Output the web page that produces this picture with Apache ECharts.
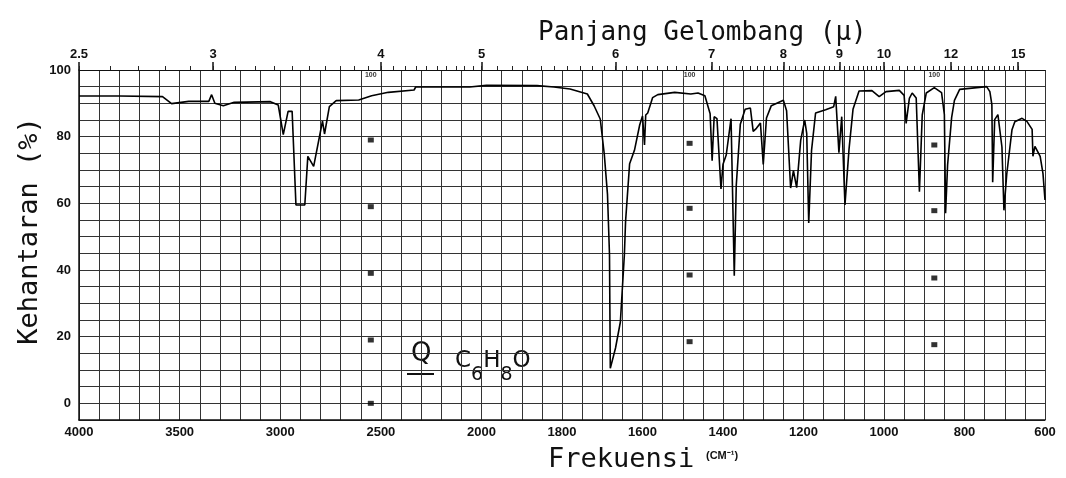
<!DOCTYPE html>
<html>
<head>
<meta charset="utf-8">
<script src="https://cdn.jsdelivr.net/npm/echarts@6/dist/echarts.min.js"></script>
<style>
    html, body { margin: 0; padding: 0; background: #fff; }
    #chart { width: 1066px; height: 478px; }
</style>
</head>
<body>
<div id="chart"></div>
<script>
// spectrum (cm-1, %T)
var wavenumbers = [4000, 3800, 3585, 3540, 3455, 3355, 3341, 3325, 3283, 3229, 3049, 3010, 2985, 2961, 2941, 2922, 2878, 2863, 2834, 2790, 2780, 2756, 2722, 2610, 2546, 2463, 2335, 2327, 2059, 1988, 1862, 1820, 1780, 1737, 1720, 1705, 1695, 1687, 1682, 1680, 1667, 1655, 1645, 1642, 1632, 1620, 1607, 1600, 1597, 1595, 1592, 1587, 1575, 1562, 1520, 1480, 1462, 1445, 1432, 1427, 1422, 1415, 1405, 1400, 1392, 1380, 1377, 1372, 1367, 1357, 1345, 1332, 1325, 1317, 1307, 1300, 1292, 1280, 1250, 1242, 1232, 1225, 1217, 1207, 1197, 1192, 1187, 1180, 1170, 1145, 1125, 1120, 1112, 1105, 1097, 1087, 1077, 1062, 1030, 1012, 995, 962, 950, 945, 937, 930, 920, 912, 905, 895, 875, 857, 850, 847, 842, 832, 825, 812, 745, 737, 732, 730, 725, 717, 707, 702, 695, 682, 675, 657, 645, 632, 630, 625, 612, 605, 600];
var transmittance = [92.2, 92.2, 92.0, 89.9, 90.6, 90.6, 92.6, 90.0, 89.3, 90.3, 90.5, 89.5, 80.6, 87.6, 87.6, 59.5, 59.5, 74.1, 71.1, 84.7, 80.8, 89.0, 90.8, 91.0, 92.3, 93.3, 94.0, 94.9, 94.9, 95.4, 95.3, 94.9, 94.3, 92.8, 89.2, 85.3, 74.8, 62.7, 44.6, 10.5, 16.6, 24.4, 44.7, 54.7, 71.9, 75.9, 83.5, 86.2, 86.0, 77.5, 86.5, 87.1, 91.7, 92.6, 93.3, 92.8, 93.1, 92.3, 86.9, 72.8, 86.0, 85.4, 64.3, 71.7, 74.5, 85.4, 86.0, 38.3, 65.5, 83.7, 88.2, 88.6, 81.6, 82.5, 84.1, 71.7, 85.6, 89.3, 90.9, 87.8, 64.6, 69.8, 64.7, 78.9, 85.0, 81.0, 54.1, 75.9, 87.1, 88.1, 89.0, 92.1, 75.2, 86.0, 59.5, 76.1, 88.2, 93.7, 93.8, 92.0, 93.5, 93.9, 92.4, 84.0, 91.5, 93.1, 91.6, 63.5, 86.5, 93.1, 94.7, 93.2, 86.6, 57.0, 71.5, 85.7, 90.9, 94.2, 95.0, 93.5, 89.6, 66.3, 85.1, 86.6, 76.9, 57.9, 68.8, 82.1, 84.5, 85.5, 84.6, 82.2, 74.1, 77.1, 74.1, 68.9, 61.0];

// tick labels
var freqLabels = [4000, 3500, 3000, 2500, 2000, 1800, 1600, 1400, 1200, 1000, 800, 600];
var percentLabels = [0, 20, 40, 60, 80, 100];
var micronLabels = [2.5, 3, 4, 5, 6, 7, 8, 9, 10, 12, 15];

// pen check marks on the chart paper
var checkWavenumbers = [2550, 1483, 875];
var checkValues = [
    [79, 59, 39, 19, 0],
    [78, 58.5, 38.5, 18.5],
    [77.5, 57.8, 37.6, 17.6]
];

// chart paper: 4000-2000 at half the scale of 2000-600
function toAxis(nu) {
    return nu >= 2000 ? (4000 - nu) / 2 : 1000 + (2000 - nu);
}
function fromAxis(u) {
    return u <= 1000 ? 4000 - u * 2 : 2000 - (u - 1000);
}

var spectrum = [];
for (var i = 0; i < wavenumbers.length; i++) {
    spectrum.push([toAxis(wavenumbers[i]), transmittance[i]]);
}

var checkMarks = [];
var checkTops = [];
for (var c = 0; c < checkWavenumbers.length; c++) {
    checkValues[c].forEach(function (v) {
        checkMarks.push([toAxis(checkWavenumbers[c]), v]);
    });
    checkTops.push([toAxis(checkWavenumbers[c]), 98.5]);
}

var micronMajor = micronLabels.map(function (l) { return toAxis(10000 / l); });
var micronMinor = [];
var lam = 2.5;
while (lam < 15.01) {
    micronMinor.push(toAxis(10000 / lam));
    lam += lam < 9.99 ? 0.1 : (lam < 11.99 ? 0.2 : 0.25);
}

var mono = "DejaVu Sans Mono";
var labelFont = {fontFamily: "Liberation Sans", fontWeight: "bold", fontSize: 13, color: "#111"};

var chart = echarts.init(document.getElementById("chart"));

chart.setOption({
    animation: false,
    backgroundColor: "#fff",
    grid: {left: 79, right: 21, top: 70, bottom: 58},
    xAxis: [
        {
            type: "value",
            position: "bottom",
            min: 0,
            max: 2400,
            interval: 50,
            axisLine: {onZero: false, lineStyle: {color: "#111", width: 1.5}},
            axisTick: {show: false},
            axisLabel: Object.assign({
                customValues: freqLabels.map(toAxis),
                margin: 6,
                formatter: function (v) {
                    return Math.round(fromAxis(v));
                }
            }, labelFont),
            splitLine: {show: true, lineStyle: {color: "#333", width: 1}}
        },
        {
            type: "value",
            position: "top",
            min: 0,
            max: 2400,
            axisLine: {show: true, onZero: false, lineStyle: {color: "#111", width: 1.2}},
            axisTick: {customValues: micronMajor, length: 8, lineStyle: {color: "#111", width: 1.5}},
            axisLabel: Object.assign({
                customValues: micronMajor,
                margin: 9,
                formatter: function (v) {
                    return Math.round(10000 / fromAxis(v) * 10) / 10;
                }
            }, labelFont),
            splitLine: {show: false}
        },
        {
            type: "value",
            position: "top",
            min: 0,
            max: 2400,
            axisLine: {show: false, onZero: false},
            axisTick: {customValues: micronMinor, length: 4, lineStyle: {color: "#222"}},
            axisLabel: {show: false},
            splitLine: {show: false}
        }
    ],
    yAxis: {
        type: "value",
        min: -5,
        max: 100,
        interval: 5,
        name: "Kehantaran (%)",
        nameLocation: "middle",
        nameGap: 36,
        nameMoveOverlap: false,
        nameTextStyle: {fontFamily: mono, fontSize: 27, color: "#111", padding: [0, 0, 0, 28]},
        axisLine: {show: true, onZero: false, lineStyle: {color: "#111", width: 1.5}},
        axisTick: {show: false},
        axisLabel: Object.assign({
            customValues: percentLabels,
            margin: 8
        }, labelFont),
        splitLine: {show: true, lineStyle: {color: "#333", width: 1}}
    },
    graphic: [
        {
            type: "text",
            left: 538,
            top: 20,
            style: {text: "Panjang Gelombang (\u03bc)", font: "26px 'DejaVu Sans Mono'", fill: "#111"}
        },
        {
            type: "text",
            left: 548,
            top: 446,
            style: {text: "Frekuensi", font: "27px 'DejaVu Sans Mono'", fill: "#111"}
        },
        {
            type: "text",
            left: 706,
            top: 450,
            style: {text: "(CM\u207b\u00b9)", font: "bold 11px 'Liberation Sans'", fill: "#111"}
        },
        {
            type: "text",
            left: 411,
            top: 341,
            style: {text: "Q", font: "26px 'DejaVu Sans'", fill: "#111", backgroundColor: "#fff"}
        },
        {
            type: "line",
            shape: {x1: 407, y1: 374, x2: 434, y2: 374},
            style: {stroke: "#111", lineWidth: 2}
        },
        {
            type: "text",
            left: 455,
            top: 350,
            style: {
                text: "{b|C}{s|6}{b|H}{s|8}{b|O}",
                backgroundColor: "#fff",
                rich: {
                    b: {font: "23px 'DejaVu Sans'", fill: "#111", verticalAlign: "top"},
                    s: {font: "19px 'DejaVu Sans'", fill: "#111", verticalAlign: "bottom", padding: [16, 0, 0, 0]}
                }
            }
        }
    ],
    series: [
        {
            name: "spectrum",
            type: "line",
            data: spectrum,
            showSymbol: false,
            lineStyle: {color: "#000", width: 1.6},
            z: 5
        },
        {
            name: "marks",
            type: "scatter",
            data: checkMarks,
            symbol: "rect",
            symbolSize: [6, 5],
            itemStyle: {color: "#000"},
            z: 4
        },
        {
            name: "marks100",
            type: "scatter",
            data: checkTops,
            symbolSize: 1,
            itemStyle: {color: "#000"},
            label: {
                show: true,
                position: "inside",
                formatter: "100",
                fontSize: 7,
                fontWeight: "bold",
                color: "#000",
                backgroundColor: "#fff"
            },
            z: 4
        }
    ]
});
</script>
</body>
</html>
